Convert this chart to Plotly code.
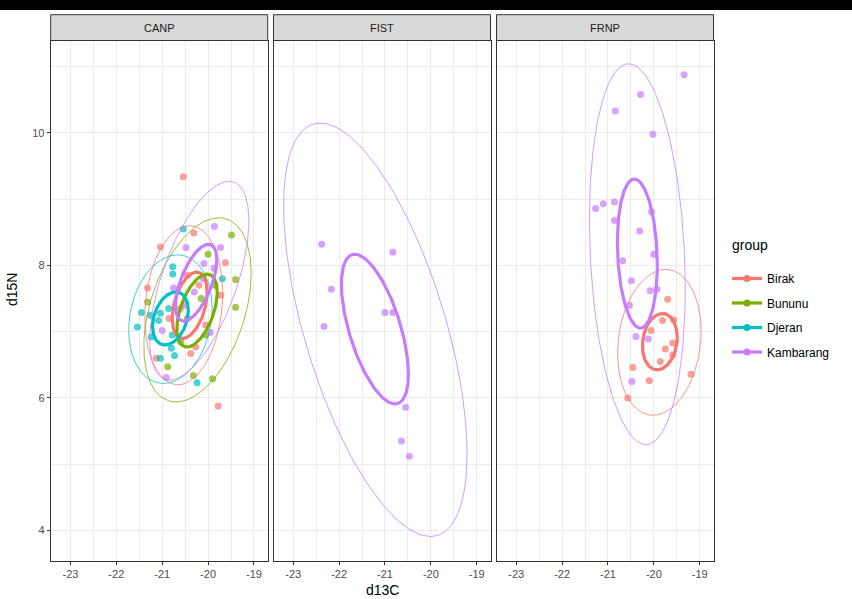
import numpy as np
import plotly.graph_objects as go

# ---------------- data ----------------
FACETS = ["CANP", "FIST", "FRNP"]
GROUPS = ["Birak", "Bununu", "Djeran", "Kambarang"]
COLORS = ["#F8766D", "#7CAE00", "#00BFC4", "#C77CFF"]

X_TICKS = [-23, -22, -21, -20, -19]
Y_TICKS = [4, 6, 8, 10]

CANP_BIRAK_X = [-20.54, -20.31, -21.04, -19.62, -21.32, -20.38, -21.13, -19.78, -20.27, -20.45, -20.20, -20.60, -20.05, -20.85, -19.72]
CANP_BIRAK_Y = [9.34, 8.49, 8.28, 8.04, 7.66, 6.67, 6.60, 5.88, 6.77, 7.85, 7.70, 7.35, 7.10, 7.20, 7.55]
CANP_BUNURU_X = [-20.00, -19.49, -19.40, -19.40, -21.32, -20.88, -20.32, -19.90, -20.15, -20.45, -20.05, -20.60, -19.85]
CANP_BUNURU_Y = [8.17, 8.46, 7.79, 7.37, 7.45, 6.47, 6.34, 6.29, 7.50, 7.20, 6.95, 6.85, 7.70]
CANP_DJERAN_X = [-20.54, -20.77, -20.77, -19.69, -21.45, -21.26, -21.54, -21.04, -21.08, -20.86, -21.24, -20.78, -20.73, -20.80, -21.04, -20.24]
CANP_DJERAN_Y = [8.55, 7.98, 7.87, 7.80, 7.29, 7.25, 7.07, 7.28, 7.17, 7.35, 6.92, 6.95, 6.64, 6.75, 6.60, 6.23]
CANP_KAMBARANG_X = [-19.86, -20.48, -19.73, -20.09, -19.87, -20.75, -21.00, -19.95, -20.91, -20.30, -20.10, -20.50]
CANP_KAMBARANG_Y = [8.59, 8.27, 8.27, 8.03, 7.96, 7.66, 7.02, 6.99, 6.31, 7.60, 7.80, 7.40]

FIST_KAMBARANG_X = [-22.38, -20.83, -22.17, -22.33, -21.00, -20.83, -20.55, -20.64, -20.47]
FIST_KAMBARANG_Y = [8.32, 8.20, 7.64, 7.08, 7.29, 7.29, 5.86, 5.35, 5.12]

FRNP_BIRAK_X = [-19.70, -19.57, -19.81, -20.06, -19.59, -19.75, -19.59, -19.86, -20.46, -19.19, -20.10, -20.57]
FRNP_BIRAK_Y = [7.49, 7.18, 7.17, 7.02, 6.83, 6.74, 6.65, 6.55, 6.46, 6.36, 6.26, 6.00]
FRNP_KAMBARANG_X = [-19.34, -20.29, -20.84, -20.02, -21.27, -21.10, -20.86, -20.05, -20.86, -20.31, -20.00, -20.68, -20.49, -20.08, -19.93, -20.53, -20.12, -20.39, -20.48]
FRNP_KAMBARANG_Y = [10.88, 10.58, 10.33, 9.98, 8.86, 8.93, 8.96, 8.81, 8.68, 8.52, 8.17, 8.07, 7.77, 7.62, 7.64, 7.40, 6.89, 6.93, 6.25]

# ellipse parameters: [centre x, centre y, half-width x, half-height y, correlation]
CANP_BIRAK_THIN = [-20.53, 7.40, 0.85, 1.20, 0.15]
CANP_BUNURU_THIN = [-20.23, 7.33, 1.17, 1.39, 0.40]
CANP_DJERAN_THIN = [-20.82, 7.19, 0.91, 0.97, 0.17]
CANP_KAMBARANG_THIN = [-20.19, 7.77, 1.08, 1.50, 0.60]
CANP_BIRAK_THICK = [-20.40, 7.40, 0.38, 0.50, 0.40]
CANP_BUNURU_THICK = [-20.24, 7.32, 0.44, 0.55, 0.50]
CANP_DJERAN_THICK = [-20.82, 7.20, 0.39, 0.40, 0.30]
CANP_KAMBARANG_THICK = [-20.26, 7.74, 0.45, 0.58, 0.60]
FIST_KAMBARANG_THIN = [-21.21, 7.03, 2.00, 3.12, -0.60]
FIST_KAMBARANG_THICK = [-21.22, 7.04, 0.73, 1.13, -0.60]
FRNP_BIRAK_THIN = [-19.88, 6.84, 0.91, 1.10, 0.15]
FRNP_BIRAK_THICK = [-19.87, 6.85, 0.38, 0.425, 0.15]
FRNP_KAMBARANG_THIN = [-20.36, 8.17, 1.045, 2.875, -0.18]
FRNP_KAMBARANG_THICK = [-20.36, 8.18, 0.435, 1.125, -0.15]

# ---------------- layout geometry ----------------
W, H = 852, 599
PANEL_PX = [(50.7, 267.7), (273.5, 490.5), (496.5, 713.5)]
PANEL_TOP, PANEL_BOTTOM = 40.5, 560.7
STRIP_TOP = 14.7
X_RANGE = [-23.43, -18.70]
Y_RANGE = [3.544, 11.396]

def ell(p, n=181):
    cx, cy, hx, hy, r = p
    t = np.linspace(0, 2 * np.pi, n)
    x = cx + hx * np.cos(t)
    y = cy + hy * (r * np.cos(t) + np.sqrt(1 - r * r) * np.sin(t))
    return x, y

facet_data = {
    "CANP": [("Birak", CANP_BIRAK_X, CANP_BIRAK_Y, CANP_BIRAK_THIN, CANP_BIRAK_THICK),
             ("Bununu", CANP_BUNURU_X, CANP_BUNURU_Y, CANP_BUNURU_THIN, CANP_BUNURU_THICK),
             ("Djeran", CANP_DJERAN_X, CANP_DJERAN_Y, CANP_DJERAN_THIN, CANP_DJERAN_THICK),
             ("Kambarang", CANP_KAMBARANG_X, CANP_KAMBARANG_Y, CANP_KAMBARANG_THIN, CANP_KAMBARANG_THICK)],
    "FIST": [("Kambarang", FIST_KAMBARANG_X, FIST_KAMBARANG_Y, FIST_KAMBARANG_THIN, FIST_KAMBARANG_THICK)],
    "FRNP": [("Birak", FRNP_BIRAK_X, FRNP_BIRAK_Y, FRNP_BIRAK_THIN, FRNP_BIRAK_THICK),
             ("Kambarang", FRNP_KAMBARANG_X, FRNP_KAMBARANG_Y, FRNP_KAMBARANG_THIN, FRNP_KAMBARANG_THICK)],
}
color_of = dict(zip(GROUPS, COLORS))

fig = go.Figure()

for i, fac in enumerate(FACETS):
    xa = "x" if i == 0 else f"x{i+1}"
    ya = "y" if i == 0 else f"y{i+1}"
    rows = facet_data[fac]
    for g, xs, ys, thin, thick in rows:
        fig.add_trace(go.Scatter(x=xs, y=ys, mode="markers", xaxis=xa, yaxis=ya,
                                 marker=dict(color=color_of[g], size=7, opacity=0.7, line=dict(width=0)),
                                 showlegend=False, hoverinfo="skip"))
    for g, xs, ys, thin, thick in rows:
        ex, ey = ell(thin)
        fig.add_trace(go.Scatter(x=ex, y=ey, mode="lines", xaxis=xa, yaxis=ya,
                                 line=dict(color=color_of[g], width=0.9),
                                 opacity=0.85, showlegend=False, hoverinfo="skip"))
    for g, xs, ys, thin, thick in rows:
        ex, ey = ell(thick)
        fig.add_trace(go.Scatter(x=ex, y=ey, mode="lines", xaxis=xa, yaxis=ya,
                                 line=dict(color=color_of[g], width=3.2),
                                 showlegend=False, hoverinfo="skip"))

# legend entries
for g, c in zip(GROUPS, COLORS):
    fig.add_trace(go.Scatter(x=[None], y=[None], mode="lines+markers", name=g, legendgroup=g,
                             line=dict(color=c, width=3.2), marker=dict(color=c, size=7),
                             xaxis="x", yaxis="y"))

grid = "#EBEBEB"
border = "#333333"
tickfont = dict(family="Liberation Sans, Arial, sans-serif", size=11, color="#4D4D4D")
ydom = [(H - PANEL_BOTTOM) / H, (H - PANEL_TOP) / H]

layout = dict(
    width=W, height=H, margin=dict(l=0, r=0, t=0, b=0),
    paper_bgcolor="white", plot_bgcolor="white",
    font=dict(family="Liberation Sans, Arial, sans-serif"),
    showlegend=True,
    legend=dict(x=727 / W, y=1 - 264 / H, xanchor="left", yanchor="top",
                font=dict(size=12, color="#000000"), tracegroupgap=5.5, itemwidth=30,
                bgcolor="rgba(0,0,0,0)"),
)
for i in range(3):
    xkey = "xaxis" if i == 0 else f"xaxis{i+1}"
    ykey = "yaxis" if i == 0 else f"yaxis{i+1}"
    ya = "y" if i == 0 else f"y{i+1}"
    xa = "x" if i == 0 else f"x{i+1}"
    x0, x1 = PANEL_PX[i]
    layout[xkey] = dict(domain=[x0 / W, x1 / W], range=X_RANGE, anchor=ya,
                        tickvals=X_TICKS, ticktext=[str(v) for v in X_TICKS],
                        showgrid=True, gridcolor=grid, gridwidth=1,
                        minor=dict(dtick=0.5, tick0=-23, showgrid=True, gridcolor=grid, gridwidth=0.5, ticks=""),
                        showline=True, linecolor=border, linewidth=1, mirror=True,
                        ticks="outside", ticklen=3, tickcolor=border, tickwidth=1,
                        tickfont=tickfont, zeroline=False, fixedrange=True)
    layout[ykey] = dict(domain=ydom, range=Y_RANGE, anchor=xa,
                        tickvals=Y_TICKS, ticktext=[str(v) for v in Y_TICKS],
                        showgrid=True, gridcolor=grid, gridwidth=1,
                        minor=dict(dtick=1, tick0=3, showgrid=True, gridcolor=grid, gridwidth=0.5, ticks=""),
                        showline=True, linecolor=border, linewidth=1, mirror=True,
                        ticks="outside" if i == 0 else "", ticklen=3, tickcolor=border,
                        showticklabels=(i == 0), tickfont=tickfont, zeroline=False, fixedrange=True)
    if i > 0:
        layout[ykey]["matches"] = "y"

fig.update_layout(**layout)

shapes = [dict(type="rect", xref="paper", yref="paper", x0=0, x1=1, y0=1 - 10 / H, y1=1,
               fillcolor="black", line=dict(width=0), layer="above")]
annotations = []
for i, fac in enumerate(FACETS):
    x0, x1 = PANEL_PX[i]
    shapes.append(dict(type="rect", xref="paper", yref="paper", x0=x0 / W, x1=x1 / W,
                       y0=1 - PANEL_TOP / H, y1=1 - STRIP_TOP / H,
                       fillcolor="#D9D9D9", line=dict(color=border, width=1), layer="above"))
    annotations.append(dict(text=fac, xref="paper", yref="paper", x=(x0 + x1) / 2 / W,
                            y=1 - (STRIP_TOP + PANEL_TOP) / 2 / H, showarrow=False,
                            xanchor="center", yanchor="middle",
                            font=dict(size=11, color="#1A1A1A")))
annotations.append(dict(text="group", xref="paper", yref="paper", x=730 / W, y=1 - 245 / H,
                        showarrow=False, xanchor="left", yanchor="middle",
                        font=dict(size=14, color="#000000")))
annotations.append(dict(text="d13C", xref="paper", yref="paper", x=382 / W, y=1 - 590 / H,
                        showarrow=False, xanchor="center", yanchor="middle",
                        font=dict(size=14, color="#000000")))
annotations.append(dict(text="d15N", xref="paper", yref="paper", x=12 / W, y=1 - 290 / H,
                        showarrow=False, xanchor="center", yanchor="middle", textangle=-90,
                        font=dict(size=14, color="#000000")))
fig.update_layout(shapes=shapes, annotations=annotations)

fig.write_html("out.html")
